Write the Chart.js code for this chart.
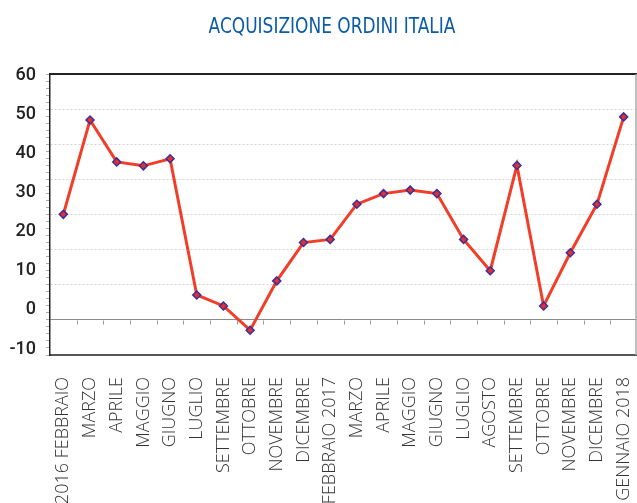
<!DOCTYPE html>
<html>
<head>
<meta charset="utf-8">
<script src="https://cdn.jsdelivr.net/npm/chart.js@4.4.1/dist/chart.umd.min.js"></script>
<style>
  body { margin: 0; background: #fff; overflow: hidden; }
  #wrap { position: relative; width: 637px; height: 503px; overflow: hidden; }
  #titolo {
    position: absolute; top: 14px; left: 332px;
    transform: translateX(-50%) scaleX(0.9);
    font-family: "Liberation Sans Narrow", "DejaVu Sans Condensed", sans-serif;
    font-size: 21px; line-height: 24px; color: #0b5ba8; white-space: nowrap;
  }
</style>
</head>
<body>
<div id="wrap">
  <div id="titolo">ACQUISIZIONE ORDINI ITALIA</div>
  <canvas id="grafico" width="637" height="503"></canvas>
</div>
<script>
// mesi (feb 2016 - gen 2018)
const mesi = [
  '2016 FEBBRAIO', 'MARZO', 'APRILE', 'MAGGIO', 'GIUGNO', 'LUGLIO',
  'SETTEMBRE', 'OTTOBRE', 'NOVEMBRE', 'DICEMBRE', 'FEBBRAIO 2017',
  'MARZO', 'APRILE', 'MAGGIO', 'GIUGNO', 'LUGLIO', 'AGOSTO',
  'SETTEMBRE', 'OTTOBRE', 'NOVEMBRE', 'DICEMBRE', 'GENNAIO 2018'
];
// valori
const ordini = [
  24.4, 48.5, 37.8, 36.8, 38.6, 3.8, 1.0, -5.2, 7.4, 17.2, 18.0,
  27.0, 29.7, 30.6, 29.7, 18.0, 10.0, 36.9, 1.0, 14.6, 27.0, 49.3
];
const yTicks = [-10, 0, 10, 20, 30, 40, 50, 60];

// tacche sulla linea dello zero + cornice
const cornice = {
  id: 'cornice',
  beforeDatasetsDraw(chart) {
    const c = chart.ctx;
    const x = chart.scales.x, g = chart.scales.y2;
    const y0 = Math.round(g.getPixelForValue(5)) + 0.5;
    c.save();
    c.strokeStyle = '#999';
    c.lineWidth = 1;
    c.beginPath();
    for (let i = 1; i < mesi.length; i++) {
      const px = Math.round((x.getPixelForValue(i - 1) + x.getPixelForValue(i)) / 2) + 0.5;
      c.moveTo(px, y0);
      c.lineTo(px, y0 + 4);
    }
    c.stroke();
    c.restore();
  },
  afterDraw(chart) {
    const c = chart.ctx, a = chart.chartArea;
    c.save();
    c.strokeStyle = '#222';
    c.lineWidth = 2;
    c.beginPath();
    c.moveTo(a.left - 1, a.top);
    c.lineTo(a.right, a.top);
    c.stroke();
    c.strokeStyle = '#aaa';
    c.lineWidth = 1.5;
    c.beginPath();
    c.moveTo(a.right - 1, a.top);
    c.lineTo(a.right - 1, a.bottom);
    c.stroke();
    c.restore();
  }
};

const chart = new Chart(document.getElementById('grafico'), {
  type: 'line',
  data: {
    labels: mesi,
    datasets: [{
      data: ordini,
      borderColor: '#f23d28',
      borderWidth: 3,
      tension: 0,
      pointStyle: 'rectRot',
      pointRadius: 4,
      pointBackgroundColor: '#e5302a',
      pointBorderColor: '#3a2f9c',
      pointBorderWidth: 1.5
    }]
  },
  options: {
    responsive: false,
    animation: false,
    layout: { autoPadding: false, padding: { top: 74, left: 0, right: 0, bottom: 0 } },
    plugins: { legend: { display: false }, tooltip: { enabled: false } },
    scales: {
      x: {
        type: 'category',
        offset: true,
        grid: { display: false, drawTicks: false },
        border: { display: true, color: '#555', width: 2 },
        ticks: {
          autoSkip: false, minRotation: 90, maxRotation: 90, padding: 22,
          color: '#333',
          font: { family: '"Open Sans", sans-serif', size: 18, weight: 300 }
        },
        afterFit(s) {
          s.height = 148;
          s.paddingLeft = 0;
          s.paddingRight = 0;
        }
      },
      y: {
        position: 'left',
        weight: 1,
        min: -11.53, max: 60.26,
        grid: { display: false, drawTicks: false },
        border: { display: false },
        ticks: {
          padding: 14, color: '#222',
          font: { family: 'Roboto, sans-serif', size: 18, weight: 500 }
        },
        afterBuildTicks(s) { s.ticks = yTicks.map(v => ({ value: v })); },
        afterFit(s) { s.width = 50; }
      },
      y2: {
        position: 'left',
        weight: 0,
        min: 0, max: 40,
        ticks: { display: false, stepSize: 1, autoSkip: false },
        grid: {
          color: (ctx) => ctx.tick.value === 5 ? '#8a8a8a' : (ctx.tick.value % 5 === 0 ? '#d2d2d2' : 'rgba(0,0,0,0)'),
          lineWidth: 1,
          drawTicks: true, tickLength: 4, tickColor: '#aaa', tickWidth: 1
        },
        border: {
          color: '#222', width: 1.5,
          dash: (ctx) => (ctx.tick && ctx.tick.value === 5) ? [] : [2, 2]
        },
        afterFit(s) { s.width = 0; }
      }
    }
  },
  plugins: [cornice]
});
</script>
</body>
</html>
